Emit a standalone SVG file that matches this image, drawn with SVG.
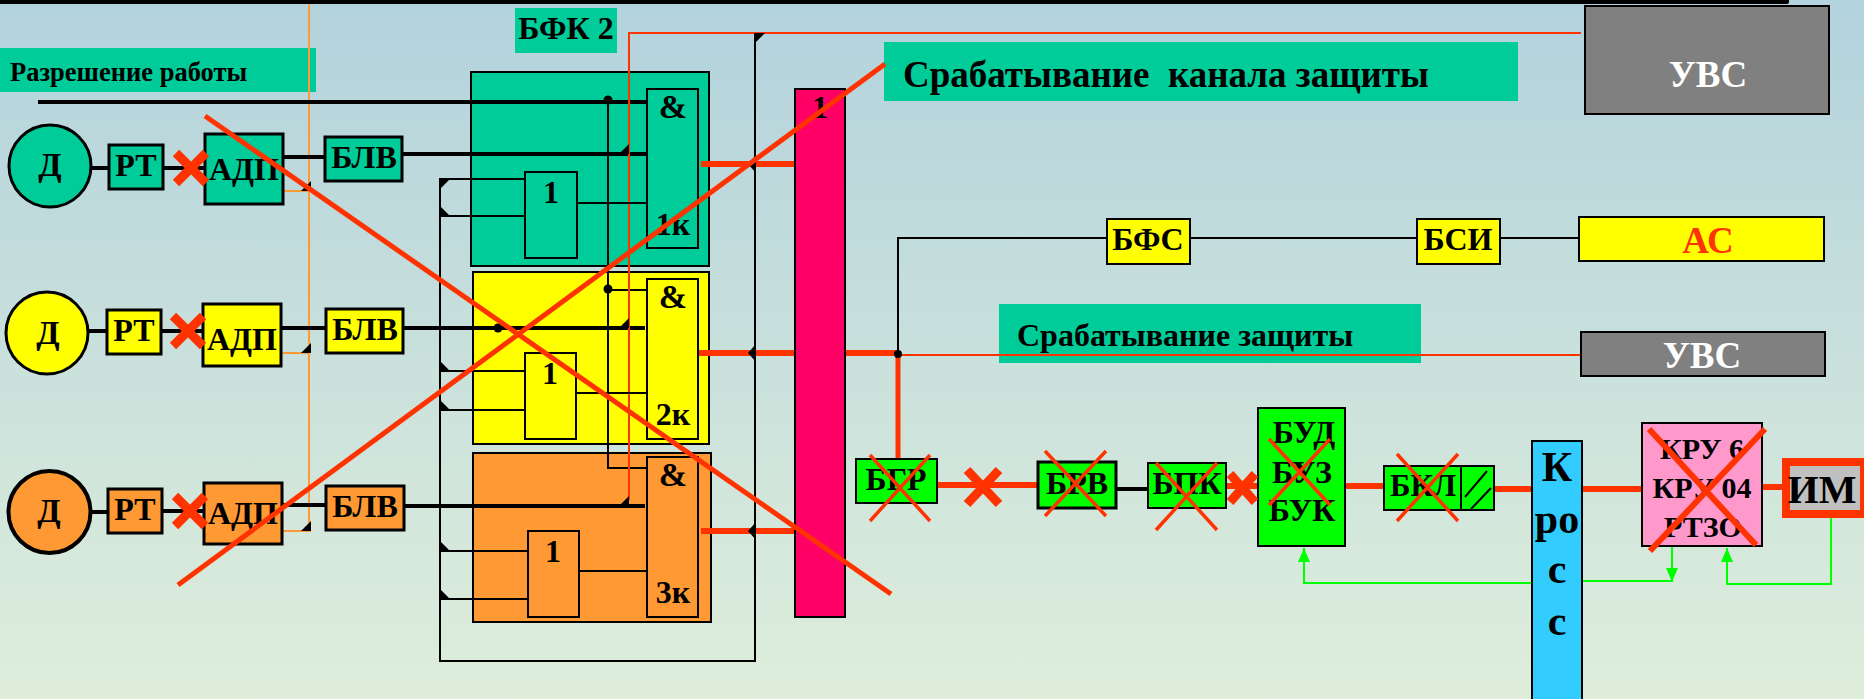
<svg xmlns="http://www.w3.org/2000/svg" width="1864" height="699" viewBox="0 0 1864 699">
<style>
text{font-family:"Liberation Serif","Times New Roman",serif;font-weight:bold;fill:#000;text-anchor:middle;white-space:pre}
.b{stroke:#000;stroke-width:3}
.b2{stroke:#000;stroke-width:2}
.teal{fill:#00cc99}.yel{fill:#ff0}.ora{fill:#f93}.grn{fill:#0f0}
.w{fill:none;stroke:#000;stroke-width:2}
.wt{fill:none;stroke:#000;stroke-width:4}
.r{fill:none;stroke:#f30;stroke-width:5}
.ro{fill:none;stroke:#f30;stroke-width:6}
.rt{fill:none;stroke:#f30;stroke-width:2}
.o{fill:none;stroke:#f93;stroke-width:2}
.g{fill:none;stroke:#0f0;stroke-width:2}
.s{fill:none;stroke:#f30;stroke-width:3.5}
.x{fill:none;stroke:#f30;stroke-width:9}
</style>
<defs>
<linearGradient id="bg" x1="0" y1="0" x2="0" y2="1"><stop offset="0" stop-color="#b2d2dd"/><stop offset="1" stop-color="#dfeedb"/></linearGradient>
<marker id="ga" markerUnits="userSpaceOnUse" markerWidth="14" markerHeight="12" refX="14" refY="6" orient="auto" viewBox="0 0 14 12"><path d="M0 0L14 6L0 12Z" fill="#0f0"/></marker>
<path id="ta" d="M0 0L-10 0L0 -10Z" fill="#000"/>
<path id="tb" d="M0 0L10 0L0 10Z" fill="#000"/>
<path id="tc" d="M0 0L10 0L0 -10Z" fill="#000"/>
<path id="td" d="M-8 0L0 -9L0 9Z" fill="#000"/>
</defs>
<rect width="1864" height="699" fill="url(#bg)"/>
<path d="M0 0H1789V2Q1789 4 1787 4H0Z" fill="#000"/>

<g id="labels">
<g id="label-permit"><rect x="0" y="48" width="316" height="44" class="teal"/><text x="10" y="81" font-size="26.500" style="text-anchor:start">Разрешение работы</text></g>
<g id="label-bfk"><rect x="515" y="8" width="102" height="45" class="teal"/><text x="566" y="39" font-size="32">БФК 2</text></g>
<g id="label-channel"><rect x="884" y="42" width="634" height="59" class="teal"/><text x="903" y="87" font-size="37" style="text-anchor:start">Срабатывание  канала защиты</text></g>
<g id="label-trip"><rect x="999" y="304" width="422" height="59" class="teal"/><text x="1017" y="346" font-size="32" style="text-anchor:start">Срабатывание защиты</text></g>
</g>

<g id="blocks">
<rect id="block-1" x="471" y="72" width="238" height="194" class="teal b2"/>
<rect id="block-2" x="473" y="272" width="236" height="172" class="yel b2"/>
<rect id="block-3" x="473" y="453" width="238" height="169" class="ora b2"/>
</g>

<g id="connectors">
<path class="o" d="M309 4V531M283 191H309M281 353H309M282 531H311"/>
<path class="wt" d="M38 102H647"/>
<path class="wt" d="M91 168H109M163 168H205M283 157H325M402 154H647"/>
<path class="wt" d="M88 331H107M161 331H203M281 328H326M403 328H645"/>
<path class="wt" d="M91 512H108M162 511H204M282 505H326M404 506H645"/>
<path class="w" d="M608 100V468H647M608 290H647"/>
<path class="rt" d="M1581 33H629V500"/>
<path class="w" d="M755 33V661H440V179H525M440 216H525M440 371H525M440 410H525M440 551H528M440 599H528"/>
<path class="w" d="M577 203H647M576 393H647M579 571H647"/>
<path class="ro" d="M701 164H795M698 353H795M701 531H795"/>
<path class="ro" d="M845 353H898"/>
<path class="r" d="M898 353V459"/>
<path class="w" d="M898 354V238H1106M1190 238H1417M1500 238H1579"/>
<path class="rt" d="M898 355H1581"/>
<path class="ro" d="M937 485H1038M1226 486H1258M1345 486H1384M1494 489H1532M1582 489H1642M1762 487H1782"/>
<path class="wt" d="M1116 489H1148"/>
<path class="g" d="M1532 583H1304V548" marker-end="url(#ga)"/>
<path class="g" d="M1582 581H1672"/>
<path class="g" d="M1672 546V582" marker-end="url(#ga)"/>
<path class="g" d="M1831 518V584H1727V548" marker-end="url(#ga)"/>
<circle cx="608" cy="100" r="4.500"/><circle cx="608" cy="289" r="4.500"/><circle cx="498" cy="328" r="4.500"/><circle cx="898" cy="354" r="4"/>
<use href="#ta" x="311" y="191"/><use href="#ta" x="311" y="353"/><use href="#ta" x="311" y="531"/>
<use href="#ta" x="629" y="154"/><use href="#ta" x="629" y="328"/><use href="#ta" x="629" y="506"/>
<use href="#tb" x="755" y="33"/><use href="#tb" x="440" y="179"/>
<use href="#tc" x="440" y="216"/><use href="#tc" x="440" y="371"/><use href="#tc" x="440" y="410"/><use href="#tc" x="440" y="551"/><use href="#tc" x="440" y="599"/>
<use href="#td" x="756" y="164"/><use href="#td" x="756" y="353"/><use href="#td" x="756" y="531"/>
</g>

<g id="d-1"><circle cx="50" cy="166" r="41" class="teal b"/><text x="50" y="176" font-size="34">Д</text></g>
<g id="d-2"><circle cx="47" cy="333" r="41" class="yel b"/><text x="48" y="344" font-size="34">Д</text></g>
<g id="d-3"><circle cx="49.500" cy="512" r="41" class="ora" stroke="#000" stroke-width="4"/><text x="49" y="522" font-size="34">Д</text></g>
<g id="rt-1"><rect x="109" y="145" width="54" height="44" class="teal b"/><text x="136" y="176" font-size="32">РТ</text></g>
<g id="rt-2"><rect x="107" y="310" width="54" height="44" class="yel b"/><text x="134" y="341" font-size="32">РТ</text></g>
<g id="rt-3"><rect x="108" y="489" width="54" height="44" class="ora b"/><text x="135" y="520" font-size="32">РТ</text></g>
<g id="adp-1"><rect x="205" y="134" width="78" height="70" class="teal b"/><text x="244" y="180" font-size="32">АДП</text></g>
<g id="adp-2"><rect x="203" y="304" width="78" height="62" class="yel b"/><text x="242" y="350" font-size="32">АДП</text></g>
<g id="adp-3"><rect x="204" y="483" width="78" height="61" class="ora b"/><text x="243" y="524" font-size="32">АДП</text></g>
<g id="blv-1"><rect x="325" y="137" width="77" height="44" class="teal b"/><text x="364" y="168" font-size="32">БЛВ</text></g>
<g id="blv-2"><rect x="326" y="309" width="77" height="44" class="yel b"/><text x="365" y="340" font-size="32">БЛВ</text></g>
<g id="blv-3"><rect x="326" y="486" width="78" height="44" class="ora b"/><text x="365" y="517" font-size="32">БЛВ</text></g>

<g id="or-1"><rect x="525" y="172" width="52" height="86" class="teal b2"/><text x="551" y="203" font-size="32">1</text></g>
<g id="or-2"><rect x="525" y="353" width="51" height="86" class="yel b2"/><text x="550" y="384" font-size="32">1</text></g>
<g id="or-3"><rect x="528" y="531" width="51" height="86" class="ora b2"/><text x="553" y="562" font-size="32">1</text></g>
<g id="and-1"><rect x="647" y="89" width="51" height="159" class="teal b2"/><text x="673" y="118" font-size="34">&amp;</text><text x="673" y="235" font-size="32">1к</text></g>
<g id="and-2"><rect x="647" y="279" width="51" height="160" class="yel b2"/><text x="673" y="308" font-size="34">&amp;</text><text x="673" y="425" font-size="32">2к</text></g>
<g id="and-3"><rect x="647" y="457" width="51" height="160" class="ora b2"/><text x="673" y="486" font-size="34">&amp;</text><text x="673" y="603" font-size="32">3к</text></g>
<g id="or-main"><rect x="795" y="89" width="50" height="528" fill="#f06" class="b2"/><text x="820" y="118" font-size="32">1</text></g>

<g id="uvs-1"><rect x="1585" y="6" width="244" height="108" fill="#808080" class="b2"/><text x="1708" y="87" font-size="37" style="fill:#fff">УВС</text></g>
<g id="bfs"><rect x="1107" y="219" width="83" height="45" class="yel b2"/><text x="1148" y="250" font-size="32">БФС</text></g>
<g id="bsi"><rect x="1417" y="219" width="83" height="45" class="yel b2"/><text x="1458" y="250" font-size="32">БСИ</text></g>
<g id="as"><rect x="1579" y="217" width="245" height="44" class="yel b2"/><text x="1708" y="253" font-size="37" style="fill:#f30">АС</text></g>
<g id="uvs-2"><rect x="1581" y="332" width="244" height="44" fill="#808080" class="b2"/><text x="1702" y="368" font-size="37" style="fill:#fff">УВС</text></g>

<g id="bgr"><rect x="856" y="459" width="81" height="44" class="grn b2"/><text x="896" y="490" font-size="32">БГР</text></g>
<g id="brv"><rect x="1038" y="462" width="78" height="46" class="grn b"/><text x="1077" y="494" font-size="32">БРВ</text></g>
<g id="bpk"><rect x="1148" y="463" width="78" height="45" class="grn b2"/><text x="1187" y="494" font-size="32">БПК</text></g>
<g id="bud"><rect x="1258" y="408" width="87" height="138" class="grn b2"/><text x="1304" y="443" font-size="32">БУД</text><text x="1302" y="483" font-size="32">БУЗ</text><text x="1302" y="521" font-size="32">БУК</text></g>
<g id="bkl"><rect x="1384" y="466" width="77" height="44" class="grn b2"/><rect x="1461" y="466" width="33" height="44" class="grn b2"/><path d="M1465 497L1487 471M1471 509L1491 488" class="w"/><text x="1423" y="496" font-size="31">БКЛ</text></g>
<g id="cross"><rect x="1532" y="441" width="50" height="262" fill="#3cf" class="b2"/><text x="1557" y="481" font-size="42">К</text><text x="1557" y="533" font-size="42">ро</text><text x="1557" y="583" font-size="42">с</text><text x="1557" y="635" font-size="42">с</text></g>
<g id="kru"><rect x="1642" y="423" width="120" height="123" fill="#f9c" class="b2"/><text x="1702" y="459" font-size="30">КРУ 6</text><text x="1702" y="498" font-size="30">КРУ 04</text><text x="1703" y="537" font-size="30">РТЗО</text></g>
<g id="im"><rect x="1786" y="462" width="78" height="52" fill="#c0c0c0" stroke="#f30" stroke-width="8"/><text x="1822" y="503" font-size="40">ИМ</text></g>

<g id="strikes">
<path class="x" d="M176 153L206 183M206 153L176 183M173 316L203 346M203 316L173 346M175 496L205 526M205 496L175 526"/>
<path class="x" d="M967 470L999 504M999 470L967 504"/>
<path class="x" d="M1230 474L1255 502M1255 474L1230 502"/>
<path class="r" d="M205 116L891 594M178 585L885 64"/>
<path class="s" d="M870 455L930 521M930 455L870 521M1045 451L1106 516M1106 451L1045 516M1156 463L1217 530M1217 463L1156 530M1269 439L1330 505M1330 439L1269 505M1397 454L1458 521M1458 454L1397 521"/>
<path class="s" style="stroke-width:6" d="M1650 551L1765 429M1649 429L1756 545"/>
</g>
</svg>
